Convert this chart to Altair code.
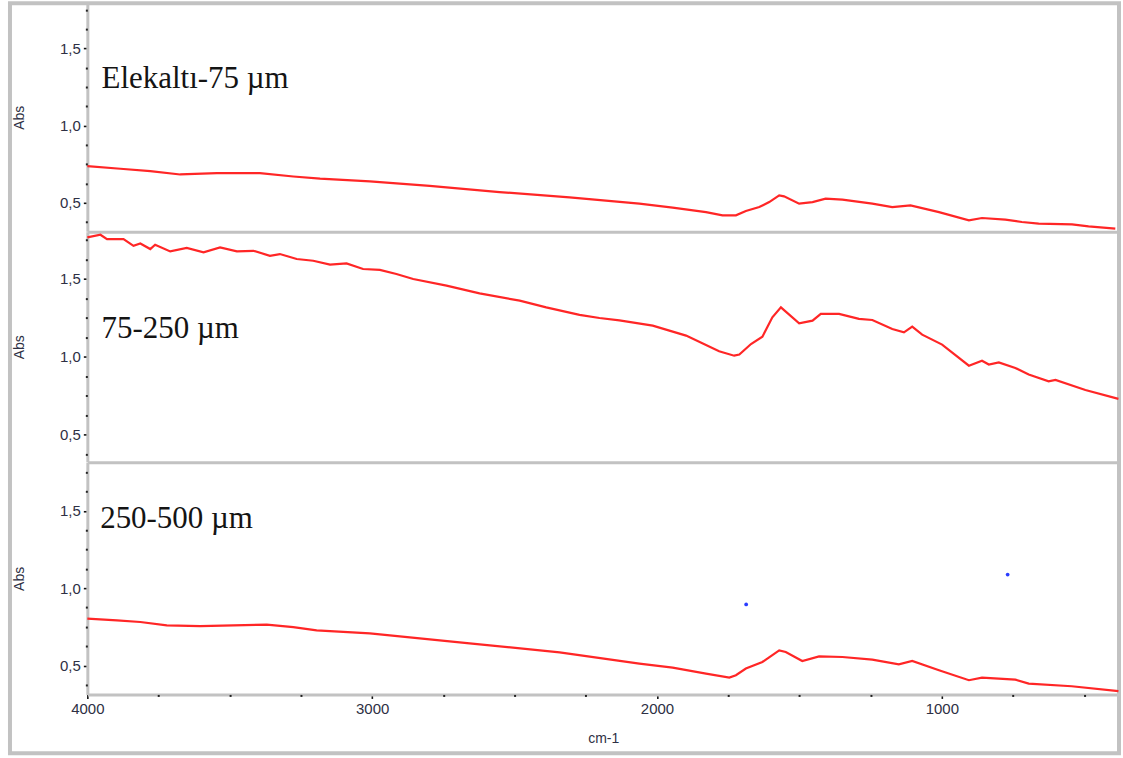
import altair as alt
import pandas as pd

# ---------------- data ----------------
# Panel 1: Elekaltı-75 µm
wn1 = [4000, 3884, 3779, 3674, 3545, 3394, 3277, 3183, 3008, 2798,
       2553, 2307, 2062, 1945, 1828, 1770, 1723, 1688, 1641, 1606,
       1571, 1554, 1501, 1454, 1408, 1349, 1244, 1174, 1110, 1010,
       905, 859, 777, 719, 660, 543, 485, 391]
abs1 = [0.738, 0.721, 0.706, 0.684, 0.693, 0.693, 0.671, 0.657, 0.639, 0.610,
        0.570, 0.535, 0.495, 0.469, 0.440, 0.419, 0.419, 0.447, 0.473, 0.505,
        0.549, 0.542, 0.495, 0.505, 0.527, 0.521, 0.495, 0.473, 0.484, 0.440,
        0.387, 0.402, 0.391, 0.376, 0.365, 0.361, 0.348, 0.333]

# Panel 2: 75-250 µm
wn2 = [4000, 3954, 3931, 3873, 3838, 3814, 3779, 3762, 3709, 3651,
       3592, 3534, 3475, 3417, 3359, 3324, 3265, 3207, 3148, 3090,
       3032, 2973, 2915, 2856, 2739, 2623, 2482, 2389, 2272, 2202,
       2132, 2015, 1898, 1782, 1729, 1711, 1670, 1630, 1595, 1565,
       1501, 1454, 1425, 1361, 1291, 1244, 1174, 1133, 1104, 1069,
       999, 905, 859, 835, 800, 742, 695, 625, 601, 496,
       380]
abs2 = [1.767, 1.784, 1.756, 1.756, 1.713, 1.728, 1.692, 1.720, 1.677, 1.699,
        1.671, 1.703, 1.677, 1.681, 1.649, 1.660, 1.628, 1.617, 1.592, 1.600,
        1.564, 1.558, 1.532, 1.500, 1.457, 1.408, 1.361, 1.318, 1.270, 1.250,
        1.235, 1.201, 1.137, 1.036, 1.008, 1.015, 1.083, 1.130, 1.254, 1.318,
        1.215, 1.233, 1.276, 1.276, 1.244, 1.237, 1.179, 1.158, 1.194, 1.143,
        1.079, 0.944, 0.976, 0.951, 0.965, 0.929, 0.887, 0.844, 0.853, 0.788,
        0.731]

# Panel 3: 250-500 µm
wn3 = [4000, 3896, 3814, 3721, 3604, 3487, 3370, 3277, 3195, 3008,
       2658, 2342, 2062, 1945, 1828, 1746, 1723, 1688, 1630, 1571,
       1548, 1490, 1431, 1349, 1244, 1151, 1104, 1010, 905, 859,
       742, 695, 544, 380]
abs3 = [0.803, 0.792, 0.781, 0.759, 0.755, 0.759, 0.764, 0.748, 0.727, 0.708,
        0.643, 0.585, 0.512, 0.486, 0.448, 0.422, 0.437, 0.480, 0.523, 0.598,
        0.587, 0.529, 0.559, 0.555, 0.538, 0.508, 0.529, 0.469, 0.405, 0.422,
        0.409, 0.383, 0.366, 0.335]

# two blue marker dots in panel 3
dot_wn = [1687, 769]
dot_abs = [0.895, 1.088]

panel_labels = ["Elekaltı-75 µm", "75-250 µm", "250-500 µm"]
label_abs = [1.244, 1.122, 1.387]
label_wn = [3950, 3950, 3955]

x_major_ticks = [4000, 3000, 2000, 1000]
x_minor_ticks = [3750, 3500, 3250, 2750, 2500, 2250, 1750, 1500, 1250, 750, 500]
y_major_ticks = [0.5, 1.0, 1.5]
y_minor_ticks = [0.375, 0.625, 0.75, 0.875, 1.125, 1.25, 1.375, 1.625, 1.75]

# ---------------- styling ----------------
GRAY = "#c2c2c2"
RED = "#ff2626"
TXT = "#2e3044"
FONT = "Liberation Sans"
W = 1033.5
X_DOMAIN = [4000, 378]

y_major = alt.Axis(values=y_major_ticks, orient="left",
                   labelExpr="replace(format(datum.value, '.1f'), '.', ',')",
                   title="Abs", titleFont=FONT, titleFontSize=14, titleFontWeight="normal",
                   titleColor=TXT, titlePadding=33,
                   labelFont=FONT, labelFontSize=15, labelColor=TXT, labelPadding=3,
                   tickSize=4, tickWidth=1.6, tickColor="#111111",
                   domainColor=GRAY, domainWidth=3, grid=False)
y_minor = alt.Axis(values=y_minor_ticks, orient="left", labels=False, domain=False,
                   title=None, tickSize=2, tickWidth=2, tickColor="#222222", grid=False,
                   zindex=1)
x_major = alt.Axis(values=x_major_ticks, orient="bottom", format="d",
                   title="cm-1", titleFont=FONT, titleFontSize=14, titleFontWeight="normal",
                   titleColor=TXT, titlePadding=15,
                   labelFont=FONT, labelFontSize=15, labelColor=TXT, labelPadding=3,
                   labelFlush=False, labelOverlap=False,
                   tickSize=4, tickWidth=1.6, tickColor="#111111",
                   domainColor=GRAY, domainWidth=3, grid=False)
x_minor = alt.Axis(values=x_minor_ticks, orient="bottom", labels=False, domain=False,
                   title=None, tickSize=2, tickWidth=2, tickColor="#222222", grid=False,
                   zindex=1)
x_top = alt.Axis(orient="top", labels=False, ticks=False, title=None,
                 domainColor=GRAY, domainWidth=3, grid=False)


def panel(idx, wn, ab, lo, hi, h):
    df = pd.DataFrame({"wn": wn, "abs": ab})
    xs = alt.Scale(domain=X_DOMAIN, nice=False, zero=False)
    ys = alt.Scale(domain=[lo, hi], nice=False, zero=False)
    base = alt.Chart(df)
    layers = []

    # top border (separator) for panels 2 and 3
    if idx > 0:
        layers.append(base.mark_line(strokeOpacity=0).encode(
            x=alt.X("wn:Q", scale=xs, axis=x_top),
            y=alt.Y("abs:Q", scale=ys, axis=None)))

    layers.append(base.mark_line(color=RED, strokeWidth=2.2).encode(
        x=alt.X("wn:Q", scale=xs, axis=x_major if idx == 2 else None),
        y=alt.Y("abs:Q", scale=ys, axis=y_major)))

    layers.append(base.mark_line(strokeOpacity=0).encode(
        x=alt.X("wn:Q", scale=xs, axis=x_minor if idx == 2 else None),
        y=alt.Y("abs:Q", scale=ys, axis=y_minor)))

    lab = pd.DataFrame({"t": [panel_labels[idx]], "x": [label_wn[idx]], "y": [label_abs[idx]]})
    layers.append(alt.Chart(lab).mark_text(align="left", baseline="alphabetic",
                                           font="Liberation Serif", fontSize=31,
                                           color="#141414").encode(
        x=alt.X("x:Q", scale=xs, axis=None),
        y=alt.Y("y:Q", scale=ys, axis=None),
        text="t:N"))

    if idx == 2:
        dots = pd.DataFrame({"wn": dot_wn, "abs": dot_abs})
        layers.append(alt.Chart(dots).mark_circle(size=14, color="#2a3cff", opacity=1).encode(
            x=alt.X("wn:Q", scale=xs, axis=None),
            y=alt.Y("abs:Q", scale=ys, axis=None)))

    if idx == 0:
        frame = pd.DataFrame({"f": [0]})
        layers.append(alt.Chart(frame).mark_rect(filled=False, stroke=GRAY, strokeWidth=4).encode(
            x=alt.value(-77.5), x2=alt.value(1033.5),
            y=alt.value(0), y2=alt.value(751.5)))

    return alt.layer(*layers).resolve_axis(x="independent", y="independent").properties(
        width=W, height=h)


p1 = panel(0, wn1, abs1, 0.316, 1.794, 228.5)
p2 = panel(1, wn2, abs2, 0.327, 1.803, 230.5)
p3 = panel(2, wn3, abs3, 0.313, 1.813, 232.5)

chart = alt.vconcat(p1, p2, p3, spacing=0, bounds="flush").properties(
    padding={"left": 7.5, "top": 0.5, "right": 0, "bottom": 0},
    background="white",
).configure_view(stroke=None)

chart.save("out.html", embed_options={"renderer": "svg", "actions": False})
